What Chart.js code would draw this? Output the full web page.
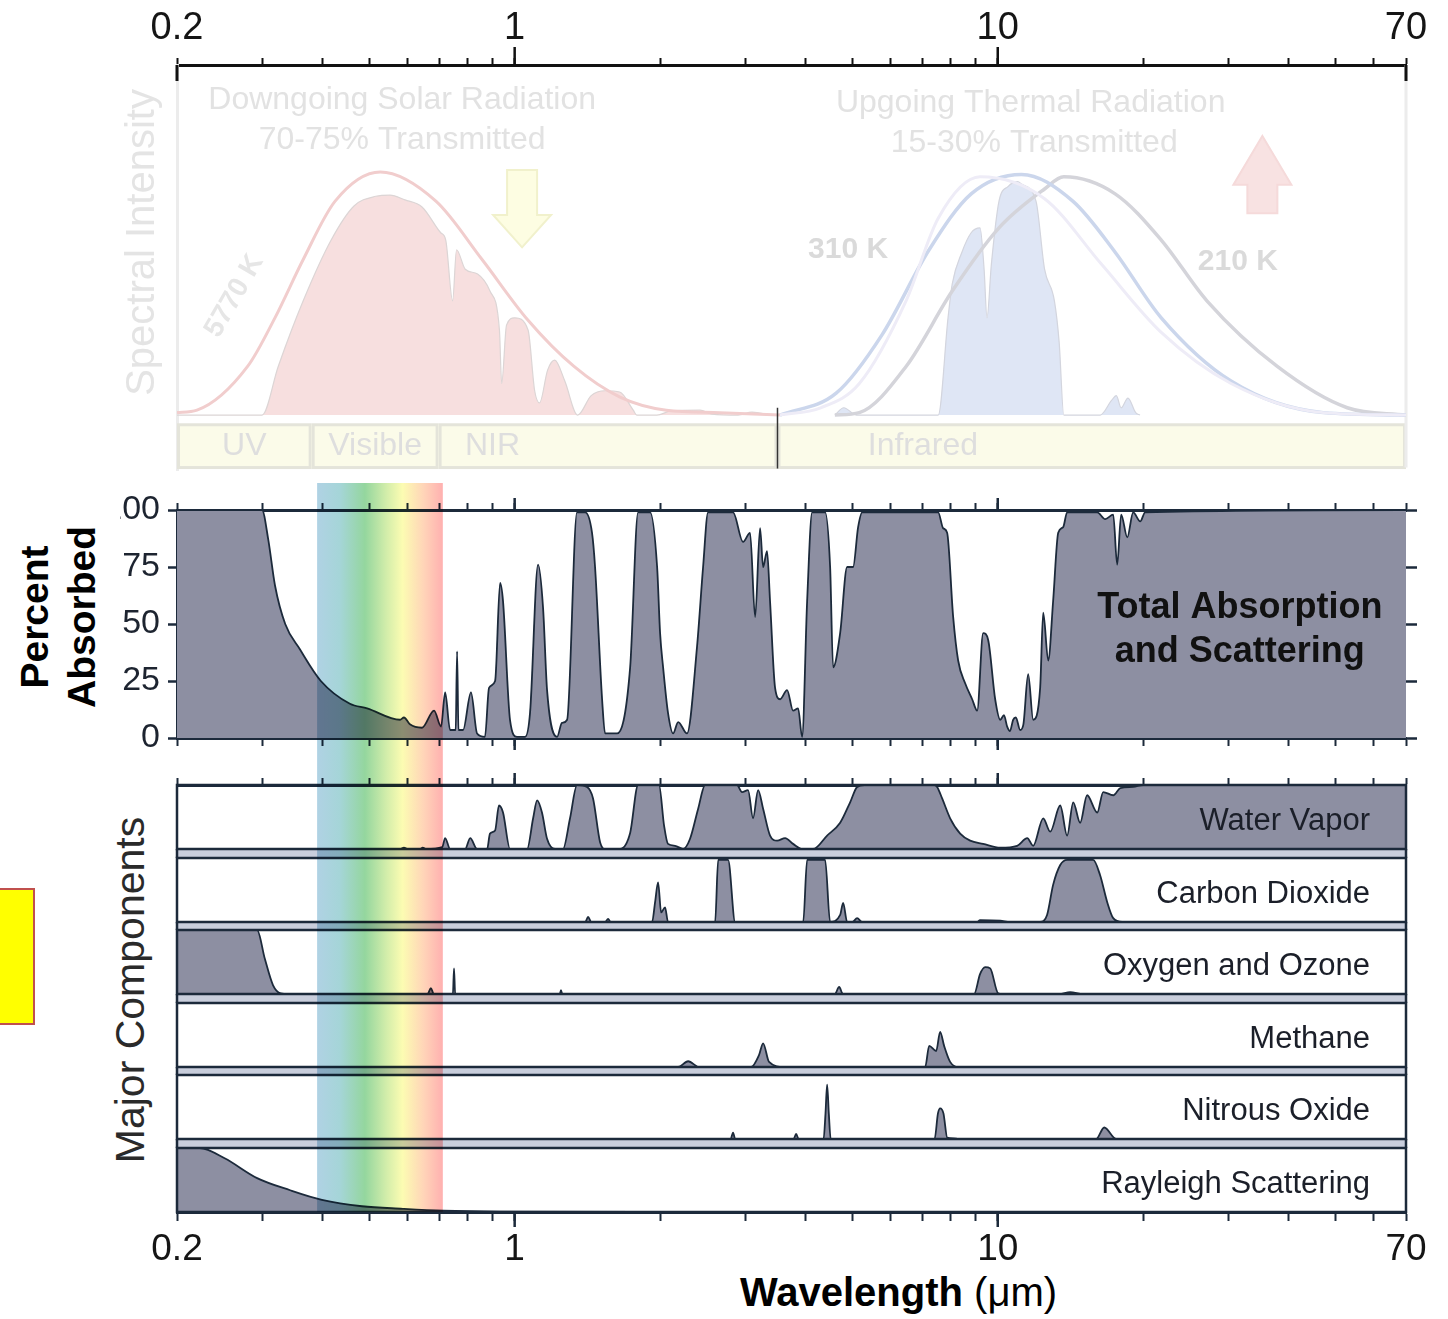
<!DOCTYPE html>
<html>
<head>
<meta charset="utf-8">
<title>Atmospheric absorption by wavelength</title>
<script src="https://cdn.jsdelivr.net/npm/chart.js@4/dist/chart.umd.min.js"></script>
<style>
  html, body { margin: 0; padding: 0; background: #fff; }
  body { position: relative; width: 1448px; height: 1319px; overflow: hidden; font-family: "Liberation Sans", Arial, sans-serif; }
  canvas { position: absolute; }
  .label { position: absolute; white-space: nowrap; }
</style>
</head>
<body>
<canvas id="spectrum" width="1448" height="483" style="left:0;top:0"></canvas>
<canvas id="total" width="1328" height="277" style="left:120px;top:483px"></canvas>

<div class="label" style="left:-3px;top:888px;width:38px;height:137px;background:#ffff00;border:2px solid #c0504d;box-sizing:border-box"></div>
<div class="label" style="left:-62px;top:570px;width:240px;height:94px;line-height:47px;text-align:center;font-weight:bold;font-size:39px;color:#000;transform:rotate(-90deg)">Percent<br>Absorbed</div>
<div class="label" style="left:-70px;top:965px;width:400px;height:50px;line-height:50px;text-align:center;font-size:41px;color:#2a2a2a;transform:rotate(-90deg)">Major Components</div>
<div class="label" style="left:740px;top:1268px;line-height:48px;font-size:40px;color:#000"><b>Wavelength</b> (μm)</div>

<script>
// ---- axis ticks ----
const tickValues = [0.2, 0.3, 0.4, 0.5, 0.6, 0.7, 0.8, 0.9, 1, 2, 3, 4, 5, 6, 7, 8, 9, 10, 20, 30, 40, 50, 60, 70];
const labelValues = [0.2, 1, 10, 70];
const labelTexts = ['0.2', '1', '10', '70'];
const percentTicks = [0, 25, 50, 75, 100];

// ---- top panel: spectral bands ----
const spectralBands = ['UV', 'Visible', 'NIR', 'Infrared'];
const bandEdges = [0.2, 0.38, 0.696, 3.5, 70];
const visibleRange = [0.39, 0.71];

// 5770 K blackbody and transmitted sunlight
const sunBodyWl = [0.2, 0.22, 0.28, 0.319, 0.365, 0.425, 0.527, 0.687, 0.856, 1.066, 1.327, 1.652, 2.06, 2.66, 3.54];
const sunBody = [1, 2, 20, 40, 64, 88, 100, 88, 64, 39, 20, 7.4, 2, 1, 0];
const sunTransWl = [0.2, 0.3, 0.324, 0.365, 0.417, 0.465, 0.516, 0.552, 0.593, 0.643, 0.703, 0.72, 0.744, 0.758, 0.79, 0.838, 0.889, 0.93, 0.94, 0.962, 1.0, 1.066, 1.1, 1.126, 1.17, 1.21, 1.27, 1.35, 1.44, 1.54, 1.65, 1.76, 1.79, 1.97, 2.1, 2.42, 2.56, 2.9, 3.1, 3.38];
const sunTrans = [0, 0, 20, 47, 72, 86, 90, 90.5, 88.5, 85.6, 75, 72, 47, 68, 60, 58, 51, 35, 13, 37, 40, 35, 10, 5, 18.5, 22.6, 14, 0, 8, 10, 9.5, 2, 0, 0, 1.6, 2, 0.4, 0, 1.2, 0];

// thermal blackbodies (310 K, middle, 210 K) and transmitted thermal
const bb310Wl = [3.54, 4.3, 5.17, 6.46, 7.53, 9.19, 12.5, 16.4, 21.8, 30.4, 47.2, 70];
const bb310 = [0, 3, 13, 47, 81, 98, 89, 62, 34, 13, 1, 0];
const bbMidWl = [3.54, 4.63, 5.76, 7.21, 8.81, 11.2, 14.3, 17.5, 21.8, 30.4, 47.2, 70];
const bbMid = [0, 9, 33, 68, 91, 99, 88, 67, 40, 14, 1, 0];
const bb210Wl = [4.6, 5.17, 6.46, 8.05, 10.06, 12.5, 13.7, 17.5, 21.8, 27.1, 37.9, 52.9, 70];
const bb210 = [0, 1, 20, 51, 77, 93, 98, 91, 72, 47, 20, 3, 0];
const earthTransWl = [4.6, 4.8, 5.1, 7.53, 7.89, 8.05, 8.43, 8.81, 9.19, 9.37, 9.5, 9.7, 10.06, 10.5, 11.0, 11.2, 12.0, 12.5, 13.1, 13.4, 13.7, 16.3, 17.2, 17.6, 18.0, 18.6, 19.3, 19.7];
const earthTrans = [0, 3, 0, 0, 40, 54, 67, 75, 77, 60, 40, 62, 88, 94, 96, 95, 88, 60, 47, 30, 0, 0, 6, 8, 3, 7, 1, 0];

// ---- total absorption and scattering (percent) ----
const totalWl = [0.2, 0.3, 0.309, 0.319, 0.335, 0.359, 0.397, 0.456, 0.495, 0.579,
  0.59, 0.607, 0.643, 0.681, 0.704, 0.718, 0.735, 0.755, 0.76, 0.765,
  0.782, 0.812, 0.836, 0.868, 0.885, 0.911, 0.933, 0.946, 0.978, 1.011,
  1.051, 1.076, 1.118, 1.145, 1.167, 1.224, 1.253, 1.284, 1.346, 1.399,
  1.446, 1.467, 1.517, 1.539, 1.629, 1.734, 1.801, 1.907, 1.972, 2.0,
  2.029, 2.077, 2.128, 2.18, 2.274, 2.385, 2.455, 2.514, 2.832, 2.97,
  3.071, 3.146, 3.221, 3.268, 3.33, 3.378, 3.46, 3.544, 3.664, 3.77,
  3.862, 3.936, 4.031, 4.129, 4.392, 4.498, 4.563, 4.718, 4.878, 5.018,
  5.14, 5.239, 7.528, 7.709, 7.857, 8.086, 8.28, 8.561, 8.852, 9.066,
  9.328, 9.554, 9.878, 10.12, 10.3, 10.46, 10.6, 10.76, 10.9, 11.13,
  11.3, 11.56, 11.84, 12.24, 12.42, 12.72, 13.02, 13.34, 13.66, 13.92,
  16.07, 16.69, 17.34, 17.67, 18.01, 18.54, 19.07, 19.72, 20.19, 70];
const totalAbs = [100, 100, 87, 67, 50, 39, 25, 15, 13, 8,
  9, 6, 4.5, 12, 5, 20, 3.5, 3.5, 38, 3.5,
  3.5, 20, 2, 0.5, 22, 25, 68, 60, 8, 0.5,
  0.5, 11, 76, 57, 21, 0.5, 6.6, 8, 99, 99,
  90, 75, 17, 2, 2, 31, 99, 99, 75, 46,
  31, 11, 2, 7, 2, 40, 75, 99, 99, 86,
  90, 53, 92, 75, 82, 60, 22, 17, 21, 12,
  13, 0.5, 60, 99, 99, 75, 31, 46, 75, 75,
  92.5, 99, 99, 92, 90, 53, 34, 24, 17, 12,
  46, 43, 17, 8, 10, 5, 3, 8, 9, 3.5,
  6, 28, 8, 22, 55, 34, 60, 90, 92.5, 99,
  99, 96, 98, 76, 98, 88, 99, 95, 99, 100];

// ---- major components ----
const waterWl = [0.2, 0.58, 0.59, 0.6, 0.637, 0.645, 0.655, 0.708, 0.718, 0.735,
  0.79, 0.809, 0.836, 0.877, 0.889, 0.911, 0.928, 0.946, 0.978, 1.061,
  1.092, 1.113, 1.139, 1.167, 1.212, 1.259, 1.302, 1.346, 1.412, 1.453,
  1.503, 1.539, 1.653, 1.734, 1.801, 1.99, 2.038, 2.077, 2.148, 2.232,
  2.307, 2.398, 2.479, 2.886, 2.956, 3.042, 3.115, 3.191, 3.268, 3.378,
  3.494, 3.63, 3.77, 3.936, 4.148, 4.434, 4.718, 4.948, 5.116, 5.3,
  7.4, 7.492, 7.672, 7.97, 8.36, 8.768, 9.328, 10.12, 10.97, 11.51,
  11.84, 12.42, 12.84, 13.47, 13.92, 14.33, 14.81, 15.31, 16.07, 16.53,
  17.34, 17.93, 19.07, 20, 70];
const waterAbs = [0, 0, 2, 0, 0, 2, 0, 3, 17, 0,
  0, 17, 0, 0, 24, 29, 68, 57, 0, 0,
  48, 76, 57, 16, 0, 0, 48, 100, 97, 79,
  10, 0, 0, 25, 100, 100, 37, 8, 5, 0,
  16, 63, 100, 100, 89, 92, 48, 92, 63, 21,
  13, 17, 8, 0, 0, 21, 41, 73, 97, 100,
  100, 97, 79, 48, 24, 13, 8, 2, 5, 17,
  5, 48, 27, 68, 21, 73, 41, 84, 57, 89,
  84, 95, 97, 100, 100];
const co2Wl = [0.2, 1.4, 1.419, 1.44, 1.54, 1.561, 1.58, 1.925, 1.953, 1.981,
  2.01, 2.048, 2.077, 2.6, 2.638, 2.766, 2.86, 3.956, 4.031, 4.392,
  4.498, 4.718, 4.786, 4.878, 5.0, 5.116, 5.239, 9.066, 9.19, 10.12,
  10.61, 12.24, 12.65, 13.02, 13.47, 13.92, 15.76, 16.29, 16.85, 17.34,
  18.1, 70];
const co2Abs = [0, 0, 8, 0, 0, 5, 0, 0, 31, 62,
  15, 23, 0, 0, 97, 97, 0, 0, 97, 97,
  0, 11, 30, 0, 0, 6, 0, 0, 3, 2,
  0, 0, 11, 58, 89, 97, 97, 73, 31, 6,
  0, 0];
const o3Wl = [0.2, 0.293, 0.304, 0.316, 0.328, 0.34, 0.66, 0.671, 0.68, 0.745,
  0.749, 0.753, 1.24, 1.247, 1.255, 4.6, 4.696, 4.78, 8.936, 9.19,
  9.418, 9.646, 10.02, 10.2, 13.4, 14.12, 15.02, 70];
const o3Abs = [100, 100, 55, 14, 1, 0, 0, 9, 0, 0,
  40, 0, 0, 6, 0, 0, 11, 0, 0, 31,
  42, 40, 1, 0, 0, 3, 0, 0];
const ch4Wl = [0.2, 2.18, 2.286, 2.408, 3.086, 3.206, 3.268, 3.362, 3.612, 7.076, 7.212, 7.457, 7.599, 7.745, 7.97, 8.28, 70];
const ch4Abs = [0, 0, 9, 0, 0, 19, 37, 8, 0, 0, 33, 25, 55, 33, 8, 0, 0];
const n2oWl = [0.2, 2.8, 2.832, 2.86, 3.78, 3.825, 3.87, 4.36, 4.4, 4.434, 4.47, 4.51, 7.4, 7.52, 7.6, 7.72, 7.86, 8.1, 8.3, 15.99, 16.61, 17.59, 70];
const n2oAbs = [0, 0, 10, 0, 0, 8, 0, 0, 40, 85, 40, 0, 0, 40, 48, 40, 2, 1, 0, 0, 18, 0, 0];
const rayWl = [0.2, 0.223, 0.251, 0.293, 0.343, 0.399, 0.483, 0.587, 0.711, 0.933, 2, 70];
const rayAbs = [100, 100, 84, 53, 34, 19, 9, 5, 2, 0.5, 0, 0];

const componentNames = ['Water Vapor', 'Carbon Dioxide', 'Oxygen and Ozone', 'Methane', 'Nitrous Oxide', 'Rayleigh Scattering'];
const componentWl = [waterWl, co2Wl, o3Wl, ch4Wl, n2oWl, rayWl];
const componentAbs = [waterAbs, co2Abs, o3Abs, ch4Abs, n2oAbs, rayAbs];

// ---- look ----
const FILL = '#8d8fa2';
const INK = '#1c2a3b';
const GAP = '#c9cedc';
const SANS = '"Liberation Sans", Arial, sans-serif';

Chart.defaults.font.family = SANS;
Chart.defaults.animation = false;
Chart.defaults.events = [];
Chart.defaults.plugins.legend.display = false;
Chart.defaults.plugins.tooltip.enabled = false;

const pts = (wl, v) => wl.map((x, i) => ({ x, y: v[i] }));

const absDataset = (wl, v) => ({
  data: pts(wl, v), fill: 'origin', backgroundColor: FILL, borderColor: INK,
  borderWidth: 1.8, pointRadius: 0, cubicInterpolationMode: 'monotone'
});

// fixed axis size, no extra room for overhanging labels
const fixSize = (w, h) => s => {
  if (w != null) s.width = w;
  if (h != null) s.height = h;
  s.paddingTop = s.paddingBottom = s.paddingLeft = s.paddingRight = 0;
};

function logAxis(position, height, tickLength, labelSize, color) {
  return {
    type: 'logarithmic', axis: 'x', position, min: 0.2, max: 70,
    afterBuildTicks: s => { s.ticks = tickValues.map(value => ({ value })); },
    afterFit: fixSize(null, height),
    ticks: {
      display: labelSize > 0, autoSkip: false, maxRotation: 0, minRotation: 0,
      font: { size: labelSize || 12 }, color: '#151515', padding: 7,
      callback: v => {
        const i = labelValues.findIndex(l => Math.abs(l - v) < 1e-6);
        return i < 0 ? '' : labelTexts[i];
      }
    },
    grid: { drawOnChartArea: false, tickLength, tickWidth: 2, tickColor: color || INK },
    border: { color: color || INK, width: 3 }
  };
}

// longer ticks at 1 and 10
const majorTicks = {
  id: 'majorTicks',
  afterDraw(chart, args, opts) {
    const { ctx } = chart;
    ctx.save();
    (opts.axes || []).forEach(([id, len, color]) => {
      const s = chart.scales[id];
      const up = s.position === 'top';
      const y0 = up ? s.bottom : s.top;
      ctx.strokeStyle = color || INK;
      ctx.lineWidth = 2.5;
      [1, 10].forEach(v => {
        const px = s.getPixelForValue(v);
        ctx.beginPath();
        ctx.moveTo(px, y0);
        ctx.lineTo(px, y0 + (up ? -len : len));
        ctx.stroke();
      });
    });
    ctx.restore();
  }
};

// visible-light band laid over the lower panels
const rainbow = {
  id: 'rainbow',
  afterDraw(chart, args, opts) {
    const { ctx, scales: { x } } = chart;
    const x1 = x.getPixelForValue(visibleRange[0]);
    const x2 = x.getPixelForValue(visibleRange[1]);
    const bottom = opts.toArea ? chart.chartArea.bottom : chart.height;
    const g = ctx.createLinearGradient(x1, 0, x2, 0);
    g.addColorStop(0, 'rgb(176,210,228)');
    g.addColorStop(0.18, 'rgb(165,213,216)');
    g.addColorStop(0.38, 'rgb(148,214,158)');
    g.addColorStop(0.55, 'rgb(210,237,170)');
    g.addColorStop(0.68, 'rgb(252,252,178)');
    g.addColorStop(0.85, 'rgb(255,212,184)');
    g.addColorStop(1, 'rgb(255,176,176)');
    ctx.save();
    ctx.globalCompositeOperation = 'multiply';
    ctx.fillStyle = g;
    ctx.fillRect(x1, 0, x2 - x1, bottom);
    ctx.restore();
  }
};

function drawArrow(ctx, cx, yBase, yNeck, yTip, shaft, head, fill, stroke) {
  ctx.beginPath();
  ctx.moveTo(cx - shaft, yBase);
  ctx.lineTo(cx - shaft, yNeck);
  ctx.lineTo(cx - head, yNeck);
  ctx.lineTo(cx, yTip);
  ctx.lineTo(cx + head, yNeck);
  ctx.lineTo(cx + shaft, yNeck);
  ctx.lineTo(cx + shaft, yBase);
  ctx.closePath();
  ctx.fillStyle = fill;
  ctx.fill();
  ctx.strokeStyle = stroke;
  ctx.lineWidth = 2;
  ctx.stroke();
}

// faded top panel: band boxes, arrows, notes
const spectrumDecor = {
  id: 'spectrumDecor',
  beforeDatasetsDraw(chart) {
    const { ctx, chartArea: a, scales: { x, y } } = chart;
    const yb1 = y.getPixelForValue(-4), yb2 = y.getPixelForValue(-21.6);
    ctx.save();
    ctx.lineWidth = 3;
    spectralBands.forEach((name, i) => {
      const l = x.getPixelForValue(bandEdges[i]), r = x.getPixelForValue(bandEdges[i + 1]);
      ctx.fillStyle = '#fbfbe9';
      ctx.fillRect(l, yb1, r - l, yb2 - yb1);
      ctx.strokeStyle = '#e4e4da';
      ctx.strokeRect(l + 1.5, yb1, r - l - 3, yb2 - yb1);
    });
    ctx.strokeStyle = '#ececec';
    ctx.beginPath();
    ctx.moveTo(a.right, a.top);
    ctx.lineTo(a.right, yb2);
    ctx.stroke();
    // axis title
    ctx.save();
    ctx.translate(143, y.getPixelForValue(71));
    ctx.rotate(-Math.PI / 2);
    ctx.font = `40px ${SANS}`;
    ctx.fillStyle = '#e4e4e4';
    ctx.textAlign = 'center';
    ctx.textBaseline = 'middle';
    ctx.fillText('Spectral Intensity', 0, 0);
    ctx.restore();
    ctx.restore();
  },
  afterDatasetsDraw(chart) {
    const { ctx, chartArea: a, scales: { x, y } } = chart;
    const X = v => x.getPixelForValue(v), Y = v => y.getPixelForValue(v);
    ctx.save();
    drawArrow(ctx, X(1.036), Y(100.8), Y(82.3), Y(69), 15, 29, '#fdfde2', '#f1f1cc');
    drawArrow(ctx, X(35.3), Y(83), Y(94.7), Y(114.8), 15, 29, '#f8e2e2', '#f5dada');

    ctx.textAlign = 'center';
    ctx.textBaseline = 'middle';
    ctx.fillStyle = '#e2e2e2';
    ctx.font = `32px ${SANS}`;
    ctx.fillText('Downgoing Solar Radiation', X(0.585), Y(129.6));
    ctx.fillText('70-75% Transmitted', X(0.585), Y(113));
    ctx.fillText('Upgoing Thermal Radiation', X(11.7), Y(128.4));
    ctx.fillText('15-30% Transmitted', X(11.9), Y(112));
    ctx.font = `bold 30px ${SANS}`;
    ctx.fillStyle = '#dadada';
    ctx.fillText('310 K', X(4.9), Y(68));
    ctx.fillText('210 K', X(31.4), Y(63));
    ctx.save();
    ctx.translate(X(0.263), Y(49));
    ctx.rotate(-60 * Math.PI / 180);
    ctx.font = `bold 28px ${SANS}`;
    ctx.fillStyle = '#e6e6e6';
    ctx.fillText('5770 K', 0, 0);
    ctx.restore();

    // band names
    ctx.font = `32px ${SANS}`;
    ctx.fillStyle = '#dedede';
    const textAt = [null, null, 0.9, 7.0];
    spectralBands.forEach((name, i) => {
      const cx = textAt[i] ? X(textAt[i]) : (X(bandEdges[i]) + X(bandEdges[i + 1])) / 2;
      ctx.fillText(name, cx, Y(-13));
    });
    // NIR / infrared divider
    ctx.strokeStyle = '#333';
    ctx.lineWidth = 1.5;
    ctx.beginPath();
    ctx.moveTo(X(3.5), Y(3));
    ctx.lineTo(X(3.5), Y(-22));
    ctx.stroke();
    // dark stubs at the axis ends
    ctx.strokeStyle = '#111';
    ctx.lineWidth = 3;
    [0.2, 70].forEach(v => {
      ctx.beginPath();
      ctx.moveTo(X(v), a.top);
      ctx.lineTo(X(v), a.top + 16);
      ctx.stroke();
    });
    ctx.restore();
  }
};

new Chart(document.getElementById('spectrum'), {
  type: 'line',
  data: {
    datasets: [
      { data: pts(sunTransWl, sunTrans), fill: 'origin', backgroundColor: '#f7dfdf', borderColor: '#dcd5d5', borderWidth: 1.2, order: 2 },
      { data: pts(earthTransWl, earthTrans), fill: 'origin', backgroundColor: '#dfe6f5', borderColor: '#d3d5de', borderWidth: 1.2, order: 2 },
      { data: pts(sunBodyWl, sunBody), borderColor: '#f1cdcd', borderWidth: 3, order: 1 },
      { data: pts(bb310Wl, bb310), borderColor: '#eeecf7', borderWidth: 3, order: 1 },
      { data: pts(bbMidWl, bbMid), borderColor: '#cbd6ec', borderWidth: 3.5, order: 1 },
      { data: pts(bb210Wl, bb210), borderColor: '#d4d4da', borderWidth: 3.5, order: 1 }
    ]
  },
  options: {
    responsive: false,
    layout: { padding: { left: 0, right: 42, top: 0, bottom: 13 } },
    elements: { point: { radius: 0 }, line: { cubicInterpolationMode: 'monotone', fill: false } },
    scales: {
      x: logAxis('top', 65, 7, 38, '#111'),
      y: {
        min: -22.6, max: 144,
        ticks: { display: false },
        grid: { display: false },
        border: { display: true, color: '#ececec', width: 3 },
        afterFit: fixSize(177, null)
      }
    },
    plugins: { majorTicks: { axes: [['x', 18, '#111']] } }
  },
  plugins: [spectrumDecor, majorTicks]
});

// total absorption panel
const totalNote = {
  id: 'totalNote',
  afterDatasetsDraw(chart) {
    const { ctx, scales: { x, y } } = chart;
    ctx.save();
    ctx.font = `bold 36px ${SANS}`;
    ctx.fillStyle = '#111';
    ctx.textAlign = 'center';
    ctx.textBaseline = 'middle';
    ctx.fillText('Total Absorption', x.getPixelForValue(31.7), y.getPixelForValue(57));
    ctx.fillText('and Scattering', x.getPixelForValue(31.7), y.getPixelForValue(37.7));
    ctx.restore();
  }
};

new Chart(document.getElementById('total'), {
  type: 'line',
  data: { datasets: [absDataset(totalWl, totalAbs)] },
  options: {
    responsive: false,
    layout: { padding: { left: 0, right: 28, top: 0, bottom: 0 } },
    scales: {
      x: logAxis('bottom', 22, 8, 0),
      xTop: logAxis('top', 27, 7, 0),
      y: {
        min: 0, max: 100, position: 'left',
        afterBuildTicks: s => { s.ticks = percentTicks.map(value => ({ value })); },
        ticks: { font: { size: 34 }, color: '#1d2430', padding: 8 },
        grid: { drawOnChartArea: false, tickLength: 9, tickWidth: 2.5, tickColor: INK },
        border: { color: INK, width: 2.5 },
        afterFit: fixSize(57, null)
      },
      y2: {
        min: 0, max: 100, position: 'right',
        afterBuildTicks: s => { s.ticks = percentTicks.map(value => ({ value })); },
        ticks: { display: false },
        grid: { drawOnChartArea: false, tickLength: 11, tickWidth: 2.5, tickColor: INK },
        border: { display: false },
        afterFit: fixSize(14, null)
      }
    },
    plugins: { majorTicks: { axes: [['x', 12], ['xTop', 12]] }, rainbow: { toArea: false } }
  },
  plugins: [totalNote, majorTicks, rainbow]
});

// component strips
const stripTops = [785, 858, 930, 1003, 1075, 1148];
const STRIP_H = 64;
const stripCuts = [760, 853, 926, 998, 1071, 1143, 1319];

const stripFrame = {
  id: 'stripFrame',
  beforeDraw(chart, args, opts) {
    const { ctx, chartArea: a } = chart;
    ctx.save();
    ctx.fillStyle = GAP;
    ctx.strokeStyle = INK;
    ctx.lineWidth = 2.5;
    const gaps = [];
    if (opts.gapTop) gaps.push([0, a.top]);
    if (opts.gapBottom) gaps.push([a.bottom, chart.height]);
    gaps.forEach(([t, b]) => {
      ctx.fillRect(a.left, t, a.right - a.left, b - t);
      ctx.beginPath();
      ctx.moveTo(a.left, t); ctx.lineTo(a.left, b);
      ctx.moveTo(a.right, t); ctx.lineTo(a.right, b);
      ctx.stroke();
    });
    ctx.restore();
  },
  afterDatasetsDraw(chart, args, opts) {
    const { ctx, chartArea: a } = chart;
    ctx.save();
    ctx.strokeStyle = INK;
    ctx.lineWidth = 2.5;
    ctx.strokeRect(a.left, a.top, a.right - a.left, a.bottom - a.top);
    ctx.font = `31px ${SANS}`;
    ctx.fillStyle = '#1b1f29';
    ctx.textAlign = 'right';
    ctx.textBaseline = 'middle';
    ctx.fillText(opts.label, a.right - 36, (a.top + a.bottom) / 2 + 4);
    ctx.restore();
  }
};

componentNames.forEach((name, i) => {
  const top = stripCuts[i], bottom = stripCuts[i + 1];
  const first = i === 0, last = i === componentNames.length - 1;
  const cv = document.createElement('canvas');
  cv.width = 1448;
  cv.height = bottom - top;
  cv.style.left = '0px';
  cv.style.top = top + 'px';
  document.body.appendChild(cv);

  const scales = {
    x: last ? logAxis('bottom', 107, 9, 37) : { type: 'logarithmic', min: 0.2, max: 70, display: false },
    y: { min: 0, max: 100, display: false }
  };
  if (first) scales.xTop = logAxis('top', 25, 7, 0);

  new Chart(cv, {
    type: 'line',
    data: { datasets: [absDataset(componentWl[i], componentAbs[i])] },
    options: {
      responsive: false,
      layout: {
        padding: {
          left: 177, right: 42,
          top: first ? 0 : stripTops[i] - top,
          bottom: last ? 0 : bottom - (stripTops[i] + STRIP_H)
        }
      },
      scales,
      plugins: {
        stripFrame: { label: name, gapTop: !first, gapBottom: !last },
        majorTicks: { axes: first ? [['xTop', 12]] : last ? [['x', 15]] : [] },
        rainbow: { toArea: last }
      }
    },
    plugins: [stripFrame, majorTicks, rainbow]
  });
});
</script>
</body>
</html>
